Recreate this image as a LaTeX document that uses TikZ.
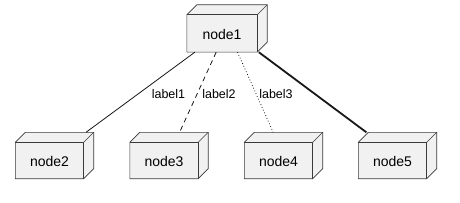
\documentclass[tikz,border=0pt]{standalone}
\usepackage{fontspec}
\setmainfont{Liberation Sans}
\definecolor{boxfill}{HTML}{F1F1F1}
\definecolor{boxline}{HTML}{3A3A3A}
\definecolor{edgecol}{HTML}{181818}
\newcommand\cubeshape[1]{%
  \draw[cubeline, fill=boxfill] (#1.south west) -- ([yshift=-10pt]#1.north west) -- ([xshift=10pt]#1.north west) -- (#1.north east) -- ([yshift=10pt]#1.south east) -- ([xshift=-10pt]#1.south east) -- cycle;
  \draw[cubeline] ([yshift=-10pt]#1.north west) -- ([xshift=-10pt,yshift=-10pt]#1.north east) -- ([xshift=-10pt]#1.south east);
  \draw[cubeline] ([xshift=-10pt,yshift=-10pt]#1.north east) -- (#1.north east);
}
\begin{document}
\begin{tikzpicture}[x=1pt,y=-1pt,
  box/.style={minimum width=78pt, minimum height=46pt, inner sep=0pt, draw=none},
  bigbox/.style={box, minimum width=80pt, minimum height=47pt},
  cubeline/.style={draw=boxline, line width=0.6pt, line join=miter},
  nodetext/.style={inner sep=0pt, font=\fontsize{14}{16}\selectfont, text=black},
  lbl/.style={inner sep=0pt, font=\fontsize{12.5}{15}\selectfont, text=black},
  edge/.style={draw=edgecol, line width=0.8pt},
  dashedge/.style={edge, dash pattern=on 5pt off 4pt},
  dotedge/.style={edge, dash pattern=on 0.8pt off 2.2pt},
  thickedge/.style={draw=edgecol, line width=1.8pt}]
\useasboundingbox (0,0) rectangle (460,203);
\fill[white] (0,0) rectangle (460,203);
\node[bigbox] (n1) at (227,28.5) {};
\node[box] (n2) at (54.5,155.5) {};
\node[box] (n3) at (169,155.5) {};
\node[box] (n4) at (283.5,155.5) {};
\node[box] (n5) at (397.5,155.5) {};
\cubeshape{n1}
\cubeshape{n2}
\cubeshape{n3}
\cubeshape{n4}
\cubeshape{n5}
\node[nodetext] (t1) at ([xshift=-5pt,yshift=-6pt]n1.center) {node1};
\node[nodetext] (t2) at ([xshift=-5pt,yshift=-6pt]n2.center) {node2};
\node[nodetext] (t3) at ([xshift=-5pt,yshift=-6pt]n3.center) {node3};
\node[nodetext] (t4) at ([xshift=-5pt,yshift=-6pt]n4.center) {node4};
\node[nodetext] (t5) at ([xshift=-5pt,yshift=-6pt]n5.center) {node5};
\draw[edge] (n1) -- (n2);
\draw[dashedge] (n1) -- (n3);
\draw[dotedge] (n1) -- (n4);
\draw[thickedge] (n1) -- (n5);
\node[lbl] (l1) at (168.5,94) {label1};
\node[lbl] (l2) at (219,94) {label2};
\node[lbl] (l3) at (276,94) {label3};
\end{tikzpicture}
\end{document}
